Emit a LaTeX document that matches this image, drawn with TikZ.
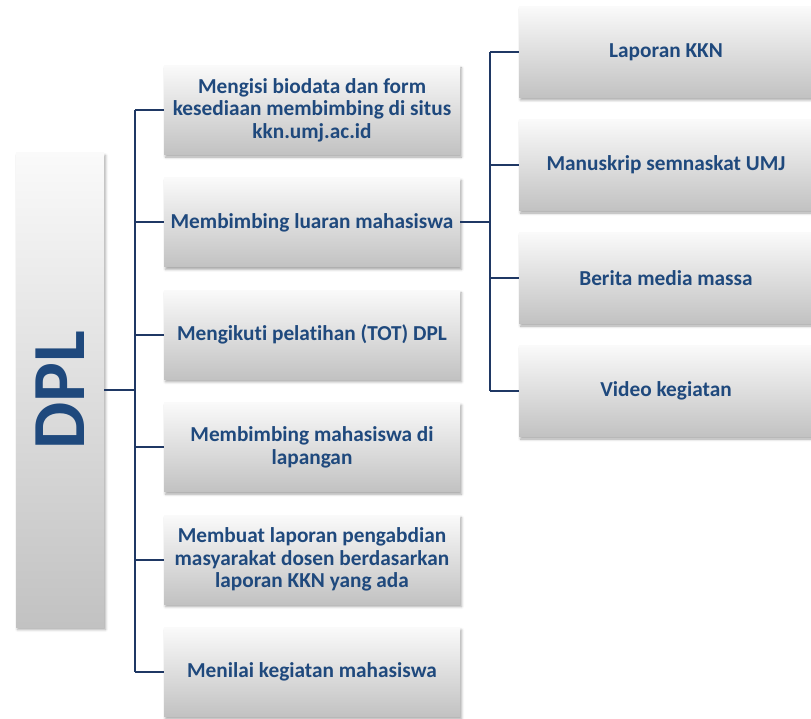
\documentclass[tikz,border=0pt]{standalone}
\usepackage{fontspec}
\setmainfont{Carlito}[Ligatures=NoCommon]
\usetikzlibrary{shadows.blur}
\definecolor{dplblue}{HTML}{1F497D}
\definecolor{linkblue}{HTML}{1F3864}

\begin{document}
\begin{tikzpicture}[x=1pt, y=-1pt]
			\tikzstyle{box}=[rectangle, top color=gray!4, bottom color=gray!48, text=dplblue, align=center, inner sep=0pt,
				blur shadow={shadow xshift=1.5pt, shadow yshift=-2.5pt, shadow blur radius=2.5pt, shadow opacity=35}]
			\tikzstyle{task}=[box, minimum width=296pt, minimum height=89pt, font=\fontsize{21.3}{22.5}\selectfont\bfseries]
			\tikzstyle{output}=[task, minimum width=294pt, minimum height=91pt]
			\tikzstyle{link}=[draw=linkblue, line width=1.8pt]
			\useasboundingbox (0,0) rectangle (811,719);
			
			\node[box, minimum width=88pt, minimum height=474pt](dpl) at (60,390){};
			\node[rotate=90, text=dplblue, font=\fontsize{75}{80}\selectfont\bfseries](dpl-text) at (dpl.center){DPL};
			
			\foreach \y/\t in {0/{Mengisi biodata dan form\\kesediaan membimbing di situs\\kkn.umj.ac.id},
				1/{Membimbing luaran mahasiswa},
				2/{Mengikuti pelatihan (TOT) DPL},
				3/{Membimbing mahasiswa di\\lapangan},
				4/{Membuat laporan pengabdian\\masyarakat dosen berdasarkan\\laporan KKN yang ada},
				5/{Menilai kegiatan mahasiswa}}
			\node[task](t-\y) at (312,110+112.4*\y) {\t};
			
			\foreach \y/\t in {0/{Laporan KKN},
				1/{Manuskrip semnaskat UMJ},
				2/{Berita media massa},
				3/{Video kegiatan}}
			\node[output](o-\y) at (666,52+113*\y) {\t};
			
			\coordinate (bus-t) at (135,0);
			\coordinate (bus-o) at (490,0);
			
			\draw[link] (dpl.east) -- (dpl.east -| bus-t);
			\draw[link] (t-0.west -| bus-t) -- (t-5.west -| bus-t);
			\foreach \y in {0,...,5}
			\draw[link] (t-\y.west -| bus-t) -- (t-\y.west);
			
			\draw[link] (t-1.east) -- (t-1.east -| bus-o);
			\draw[link] (o-0.west -| bus-o) -- (o-3.west -| bus-o);
			\foreach \y in {0,...,3}
			\draw[link] (o-\y.west -| bus-o) -- (o-\y.west);
\end{tikzpicture}
\end{document}
